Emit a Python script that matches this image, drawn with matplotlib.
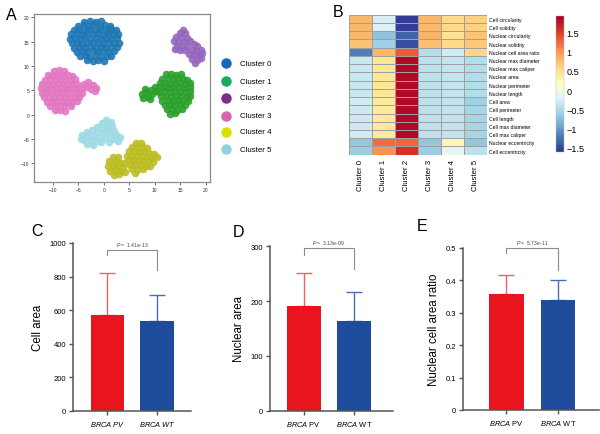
import numpy as np
import matplotlib
matplotlib.use("Agg")
import matplotlib.pyplot as plt
from matplotlib.lines import Line2D

plt.rcParams['font.family'] = ['Liberation Sans', 'DejaVu Sans']
plt.rcParams['mathtext.fontset'] = 'custom'
plt.rcParams['mathtext.it'] = 'Liberation Sans:italic'
plt.rcParams['mathtext.rm'] = 'Liberation Sans'

# ---------------- data ----------------
cluster_names = ["Cluster 0", "Cluster 1", "Cluster 2", "Cluster 3", "Cluster 4", "Cluster 5"]

c0_pts = [(-3.8,19.1),(-2.7,19.3),(-1.6,19.0),(-0.5,19.2),
          (-5.0,18.3),(-3.9,18.5),(-2.9,18.2),(-1.9,18.6),(-0.8,18.3),(0.3,18.5),(1.3,18.2),
          (-5.9,17.4),(-4.9,17.6),(-3.8,17.3),(-2.8,17.7),(-1.7,17.4),(-0.7,17.6),(0.4,17.3),(1.4,17.6),(2.3,17.4),
          (-6.4,16.5),(-5.3,16.7),(-4.3,16.4),(-3.3,16.8),(-2.2,16.5),(-1.2,16.7),(-0.1,16.4),(0.9,16.7),(1.9,16.5),(2.8,16.6),
          (-6.6,15.6),(-5.7,15.8),(-4.7,15.5),(-3.7,15.9),(-2.7,15.6),(-1.6,15.8),(-0.6,15.5),(0.5,15.8),(1.5,15.6),(2.6,15.7),
          (-6.3,14.7),(-5.2,14.9),(-4.2,14.6),(-3.2,15.0),(-2.1,14.7),(-1.1,14.9),(-0.1,14.6),(0.9,14.9),(2.0,14.7),(2.9,14.8),
          (-5.9,13.8),(-4.8,14.0),(-3.7,13.7),(-2.7,14.1),(-1.6,13.8),(-0.6,14.0),(0.4,13.7),(1.5,14.0),(2.6,13.9),
          (-5.3,12.9),(-4.3,13.1),(-3.2,12.8),(-2.2,13.2),(-1.1,12.9),(-0.1,13.1),(0.9,12.8),(2.0,13.0),
          (-4.6,12.0),(-3.6,12.2),(-2.6,11.9),(-1.5,12.2),(-0.5,11.9),(0.6,12.1),(1.5,12.0),
          (-3.3,11.2),(-2.2,11.0),(-1.1,11.3),(0.1,11.1)]

c1_pts = [(12.2,8.3),(13.2,8.4),(14.2,8.2),(15.2,8.3),
          (11.5,7.4),(12.5,7.5),(13.5,7.3),(14.5,7.5),(15.5,7.4),(16.3,7.2),
          (11.0,6.5),(12.0,6.6),(13.0,6.4),(14.0,6.6),(15.0,6.5),(16.0,6.4),(16.8,6.6),
          (10.8,5.6),(11.8,5.7),(12.8,5.5),(13.8,5.7),(14.8,5.6),(15.8,5.5),(16.8,5.7),
          (10.9,4.7),(11.9,4.8),(12.9,4.6),(13.9,4.8),(14.9,4.7),(15.9,4.6),(16.9,4.8),
          (11.2,3.8),(12.2,3.9),(13.2,3.7),(14.2,3.9),(15.2,3.8),(16.2,3.7),(16.9,3.9),
          (11.5,2.9),(12.5,3.0),(13.5,2.8),(14.5,3.0),(15.5,2.9),(16.4,2.8),
          (11.9,2.0),(12.9,2.1),(13.9,1.9),(14.9,2.1),(15.9,2.0),
          (12.3,1.1),(13.3,1.2),(14.3,1.0),(15.3,1.1),
          (13.0,0.2),(14.0,0.3),
          (7.4,4.2),(7.7,3.4),(8.3,4.6),(8.6,3.7),(9.2,5.1),(9.5,4.3),(10.1,5.6),(10.2,4.8),(8.0,5.3),(9.0,3.2)]

c2_pts = [(15.6,17.5),(14.9,16.8),(16.0,16.7),(14.2,16.0),(15.2,15.9),(16.3,15.8),(13.8,15.1),(14.8,15.0),
          (15.8,14.9),(16.8,15.2),(14.3,14.2),(15.3,14.0),(16.3,14.1),(17.6,14.6),(18.3,14.2),(15.0,13.3),
          (16.0,13.2),(17.2,13.4),(18.0,13.1),(19.0,13.3),(16.6,12.4),(17.6,12.2),(18.6,12.3),(19.3,12.6),
          (17.2,11.4),(18.2,11.3),(19.0,11.6),(17.8,10.7),(14.0,13.6)]

c3_pts = [(-9.8,9.0),(-8.8,9.1),(-7.8,8.9),
          (-11.0,8.1),(-10.0,8.2),(-9.0,8.0),(-8.0,8.2),(-7.0,8.1),(-6.2,8.0),
          (-11.6,7.2),(-10.6,7.3),(-9.6,7.1),(-8.6,7.3),(-7.6,7.2),(-6.6,7.1),(-5.7,7.3),
          (-12.0,6.3),(-11.0,6.4),(-10.0,6.2),(-9.0,6.4),(-8.0,6.3),(-7.0,6.2),(-6.0,6.4),(-5.2,6.3),
          (-12.2,5.4),(-11.2,5.5),(-10.2,5.3),(-9.2,5.5),(-8.2,5.4),(-7.2,5.3),(-6.2,5.5),(-5.2,5.4),(-4.5,5.2),
          (-12.1,4.5),(-11.1,4.6),(-10.1,4.4),(-9.1,4.6),(-8.1,4.5),(-7.1,4.4),(-6.1,4.6),(-5.1,4.5),(-4.3,4.4),
          (-11.7,3.6),(-10.7,3.7),(-9.7,3.5),(-8.7,3.7),(-7.7,3.6),(-6.7,3.5),(-5.7,3.7),(-4.8,3.6),
          (-11.2,2.7),(-10.2,2.8),(-9.2,2.6),(-8.2,2.8),(-7.2,2.7),(-6.2,2.6),(-5.3,2.8),
          (-10.5,1.8),(-9.5,1.9),(-8.5,1.7),(-7.5,1.9),(-6.5,1.8),
          (-9.6,0.9),(-8.6,1.0),(-7.6,0.8),
          (-3.9,6.4),(-3.0,6.7),(-2.1,6.2),(-1.5,5.5),(-3.4,5.6),(-2.5,5.3),(-1.8,4.8)]

c4_pts = [(1.8,-8.8),(2.8,-8.7),(1.0,-9.6),(2.0,-9.6),(3.0,-9.7),(3.9,-9.9),(0.8,-10.6),(1.8,-10.5),
          (2.8,-10.6),(3.8,-10.8),(1.2,-11.5),(2.2,-11.4),(3.2,-11.5),(4.1,-11.7),(2.0,-12.3),(3.0,-12.2),
          (6.3,-5.9),(7.3,-5.8),(5.6,-6.7),(6.6,-6.6),(7.6,-6.7),(8.5,-6.9),(4.9,-7.5),(5.9,-7.5),(6.9,-7.6),
          (7.9,-7.5),(8.9,-7.8),(9.8,-8.0),(4.5,-8.4),(5.5,-8.4),(6.5,-8.5),(7.5,-8.4),(8.5,-8.6),(9.5,-8.7),
          (10.5,-8.6),(4.7,-9.3),(5.7,-9.4),(6.7,-9.3),(7.7,-9.5),(8.7,-9.6),(9.6,-9.7),(5.2,-10.3),(6.2,-10.2),
          (7.2,-10.4),(8.2,-10.5),(9.0,-10.5),(5.6,-11.2),(6.6,-11.3),(7.6,-11.1),(6.1,-11.9)]

c5_pts = [(0.5,-1.1),(1.4,-1.5),(-0.4,-1.8),(0.6,-2.1),(1.7,-2.4),(-1.3,-2.6),(-0.2,-2.8),(0.9,-3.0),
          (2.0,-3.3),(-2.3,-3.2),(-3.3,-3.5),(-1.2,-3.6),(0.0,-3.8),(1.2,-4.0),(2.4,-4.1),(3.2,-4.6),
          (-4.3,-4.2),(-3.2,-4.4),(-2.1,-4.3),(-1.0,-4.6),(0.3,-4.8),(1.8,-5.0),(2.7,-5.5),(-3.8,-5.2),
          (-2.7,-5.3),(-1.6,-5.5),(-0.5,-5.6),(-2.2,-6.3),(-3.3,-6.1),(1.0,-5.7),(-4.5,-4.9)]

scatter_colors = ["#1f77b4", "#2ca02c", "#9467bd", "#e377c2", "#bcbd22", "#9edae5"]
legend_colors = ["#1666b5", "#1aaa5e", "#7a2e8e", "#da62b2", "#dede00", "#8ed2e2"]

feature_names = ["Cell circularity", "Cell solidity", "Nuclear circularity", "Nuclear solidity",
                 "Nuclear cell area ratio", "Nuclear max diameter", "Nuclear max caliper",
                 "Nuclear area", "Nuclear perimeter", "Nuclear length", "Cell area",
                 "Cell perimeter", "Cell length", "Cell max diameter", "Cell max caliper",
                 "Nuclear eccentricity", "Cell eccentricity"]
heat_values = [
    [0.80, -0.26, -1.55, 0.80, 0.55, 0.62],
    [0.80, -0.22, -1.55, 0.78, 0.55, 0.60],
    [0.80, -0.72, -1.35, 0.82, 0.50, 0.72],
    [0.72, -0.61, -1.45, 0.75, 0.55, 0.68],
    [-1.18, 0.80, 1.32, -0.47, -0.30, 0.58],
    [-0.36, 0.44, 1.85, -0.42, -0.38, -0.49],
    [-0.36, 0.44, 1.85, -0.42, -0.38, -0.49],
    [-0.36, 0.44, 1.85, -0.42, -0.38, -0.49],
    [-0.36, 0.44, 1.85, -0.42, -0.38, -0.49],
    [-0.36, 0.44, 1.85, -0.42, -0.38, -0.49],
    [-0.30, 0.42, 1.85, -0.42, -0.40, -0.60],
    [-0.32, 0.42, 1.85, -0.42, -0.40, -0.58],
    [-0.32, 0.42, 1.85, -0.42, -0.40, -0.58],
    [-0.32, 0.42, 1.85, -0.42, -0.40, -0.58],
    [-0.30, 0.42, 1.85, -0.42, -0.40, -0.58],
    [-0.68, 1.22, 1.25, -0.68, 0.23, -0.68],
    [-0.65, 1.00, 1.57, -0.65, -0.12, -0.44],
]
cbar_ticks = [-1.5, -1, -0.5, 0, 0.5, 1, 1.5]

groups = ["BRCA PV", "BRCA WT"]
cell_area_mean = [573, 533]
cell_area_upper = [822, 687]
nuc_area_mean = [190.5, 164]
nuc_area_upper = [252, 217]
ratio_mean = [0.359, 0.340]
ratio_upper = [0.418, 0.401]
p_values = ["1.41e-13", "3.13e-09", "5.73e-11"]

bar_colors = ["#e8161c", "#1e4b9b"]
err_colors = ["#f06266", "#4a6cb6"]

# ---------------- figure ----------------
W, H = 600, 435
fig = plt.figure(figsize=(6, 4.35), dpi=100)

def box(l, r, t, b):
    return [l / W, 1 - b / H, (r - l) / W, (b - t) / H]

# Panel A: scatter
axA = fig.add_axes(box(34.3, 210, 15, 183.3))
for pts, col in zip([c0_pts, c1_pts, c2_pts, c3_pts, c4_pts, c5_pts], scatter_colors):
    xs, ys = zip(*pts)
    axA.scatter(xs, ys, s=30, c=col, alpha=0.9, linewidths=0)
axA.set_xlim(-13.6, 20.8)
axA.set_ylim(-13.9, 20.7)
axA.set_xticks([-10, -5, 0, 5, 10, 15, 20])
axA.set_yticks([-10, -5, 0, 5, 10, 15, 20])
axA.tick_params(labelsize=3.6, length=2, width=0.5, pad=1.5, colors='#333333')
for sp in axA.spines.values():
    sp.set_color('#8a8a8a')
    sp.set_linewidth(0.9)

# legend for A
leg_y = [64, 82.3, 99, 116.7, 132.7, 150]
for name, col, yy in zip(cluster_names, legend_colors, leg_y):
    fig.add_artist(Line2D([226 / W], [1 - yy / H], marker='o', markersize=6.5, color=col,
                          linestyle='none', transform=fig.transFigure))
    fig.text(239.5 / W, 1 - yy / H, name, fontsize=5.7, va='center', ha='left')

# Panel B: heatmap
axB = fig.add_axes(box(349.3, 486.7, 15.7, 155.7))
data = np.array(heat_values)
mesh = axB.pcolormesh(data, cmap='RdYlBu_r', vmin=-1.6, vmax=1.92,
                      edgecolors='#a0a0a0', linewidth=0.4)
axB.set_ylim(len(feature_names), 0)
axB.set_xlim(0, len(cluster_names))
axB.yaxis.tick_right()
axB.set_yticks(np.arange(len(feature_names)) + 0.5)
axB.set_yticklabels(feature_names, fontsize=3.7)
axB.set_xticks(np.arange(len(cluster_names)) + 0.5)
axB.set_xticklabels(cluster_names, rotation=90, fontsize=5.6)
axB.tick_params(length=0, pad=1.5)
axB.tick_params(axis='x', pad=3)
for sp in axB.spines.values():
    sp.set_visible(False)

cax = fig.add_axes(box(555.7, 564, 17, 152.7))
cb = fig.colorbar(mesh, cax=cax)
cb.set_ticks(cbar_ticks)
cb.set_ticklabels([("−" if t < 0 else "") + ("%g" % abs(t)) for t in cbar_ticks])
cb.ax.tick_params(labelsize=6.6, length=0, pad=2)
cb.outline.set_linewidth(0.3)
cb.outline.set_edgecolor('#bbbbbb')

# Bar panels
def bar_panel(rect, xlim, ylim, yticks, yticklabels, means, uppers, ylabel,
              xlabels, pval, brk_top, brk_left, brk_right, txt_y):
    ax = fig.add_axes(rect)
    x = np.arange(len(means))
    ax.bar(x, means, width=0.67, color=bar_colors, zorder=2)
    for xi, m, u, ec in zip(x, means, uppers, err_colors):
        ax.errorbar([xi], [m], yerr=[[0], [u - m]], fmt='none', ecolor=ec,
                    elinewidth=1.0, capsize=5.5, capthick=1.0, zorder=1)
    ax.set_xlim(*xlim)
    ax.set_ylim(*ylim)
    ax.set_yticks(yticks)
    ax.set_yticklabels(yticklabels)
    ax.set_xticks(x)
    ax.set_xticklabels(xlabels)
    for sp in ['top', 'right']:
        ax.spines[sp].set_visible(False)
    for sp in ['left', 'bottom']:
        ax.spines[sp].set_color('#555555')
        ax.spines[sp].set_linewidth(1.1)
    ax.tick_params(labelsize=5.5, length=3, width=1, color='#555555', pad=2)
    ax.tick_params(axis='x', labelsize=5.4, pad=3)
    ax.set_ylabel(ylabel, fontsize=8.3, labelpad=4)
    ax.plot([0, 0, 1, 1], [brk_left, brk_top, brk_top, brk_right], color='#8c8c8c',
            lw=0.8, clip_on=False, zorder=3)
    ax.text(0.5, txt_y, r"$\it{P}$ =  " + pval, fontsize=3.7, ha='center', va='center',
            color='#444444', clip_on=False)
    return ax

axC = bar_panel(box(73.3, 190.7, 244, 411.7), (-0.69, 1.68), (0, 1000),
                [0, 200, 400, 600, 800, 1000], ["0", "200", "400", "600", "800", "1000"],
                cell_area_mean, cell_area_upper, "Cell area",
                [r"$\it{BRCA\ PV}$", r"$\it{BRCA\ WT}$"], p_values[0], 958, 928, 840, 992)
axD = bar_panel(box(270, 392.7, 247.3, 411.7), (-0.67, 1.77), (0, 300),
                [0, 100, 200, 300], ["0", "100", "200", "300"],
                nuc_area_mean, nuc_area_upper, "Nuclear area",
                [r"$\it{BRCA}$ PV", r"$\it{BRCA}$ WT"], p_values[1], 296, 284, 258, 308)
axE = bar_panel(box(463.3, 599.3, 249, 411), (-0.83, 1.8), (0, 0.5),
                [0, 0.1, 0.2, 0.3, 0.4, 0.5], ["0", "0.1", "0.2", "0.3", "0.4", "0.5"],
                ratio_mean, ratio_upper, "Nuclear cell area ratio",
                [r"$\it{BRCA}$ PV", r"$\it{BRCA}$ WT"], p_values[2], 0.499, 0.484, 0.432, 0.519)

# panel letters
for lab, (px, py) in zip("ABCDE", [(11.5, 15.5), (338, 12.8), (36.7, 232), (238.3, 232.5), (421.7, 226.7)]):
    fig.text(px / W, 1 - py / H, lab, fontsize=11.5, ha='center', va='center')

fig.savefig("out.png", dpi=100)
